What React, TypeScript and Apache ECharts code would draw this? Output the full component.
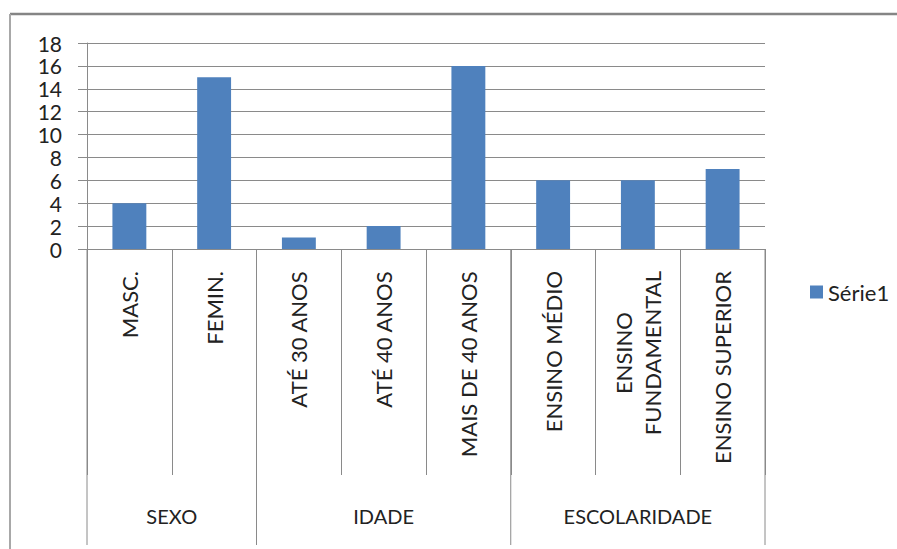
import React, { useEffect, useRef } from "react";
import * as echarts from "echarts";

const categories = [
  "MASC.",
  "FEMIN.",
  "ATÉ 30 ANOS",
  "ATÉ 40 ANOS",
  "MAIS DE 40 ANOS",
  "ENSINO MÉDIO",
  "ENSINO\nFUNDAMENTAL",
  "ENSINO SUPERIOR",
];
const values = [4, 15, 1, 2, 16, 6, 6, 7];
const groupLabels = ["SEXO", "IDADE", "ESCOLARIDADE"];
const groupSizes = [2, 3, 3];
const seriesName = "Série1";
const yMin = 0;
const yMax = 18;
const yInterval = 2;

const FONT = "Lato, 'Open Sans', sans-serif";
const TEXT = "#222222";
const LINE = "#8a8a8a";

export default function App() {
  const ref = useRef<HTMLDivElement>(null);

  useEffect(() => {
    document.body.style.margin = "0";
    const chart = echarts.init(ref.current!, null, { renderer: "svg" });
    const axisBottom = 249;
    chart.setOption({
      animation: false,
      backgroundColor: "#ffffff",
      grid: { left: 87, right: 132, top: 43, bottom: 549 - axisBottom, containLabel: false },
      legend: {
        data: [seriesName],
        left: 805,
        top: 276,
        icon: "rect",
        itemWidth: 13,
        itemHeight: 13,
        textStyle: { fontFamily: FONT, fontSize: 22, color: TEXT },
      },
      xAxis: {
        type: "category",
        data: categories,
        axisLine: { show: true, lineStyle: { color: LINE, width: 1 } },
        axisTick: { show: true, length: 226, alignWithLabel: false, lineStyle: { color: LINE, width: 1 } },
        axisLabel: {
          interval: 0,
          rotate: 90,
          margin: 22,
          color: TEXT,
          formatter: (v: string) => v.split("\n").map((l) => `{c|${l}}`).join("\n"),
          rich: {
            c: { align: "center", fontFamily: FONT, fontSize: 22, lineHeight: 29, color: TEXT },
          },
        },
      },
      yAxis: {
        type: "value",
        min: yMin,
        max: yMax,
        interval: yInterval,
        axisLine: { show: true, lineStyle: { color: LINE, width: 1 } },
        axisTick: { show: true, length: 9, lineStyle: { color: LINE, width: 1 } },
        splitLine: { show: true, lineStyle: { color: LINE, width: 1 } },
        axisLabel: { margin: 25, fontFamily: FONT, fontSize: 21, color: TEXT },
      },
      series: [
        {
          name: seriesName,
          type: "bar",
          data: values,
          barWidth: "40%",
          itemStyle: { color: "#4F81BD" },
        },
      ],
    });

    const c0 = chart.convertToPixel({ xAxisIndex: 0 }, 0) as number;
    const c1 = chart.convertToPixel({ xAxisIndex: 0 }, 1) as number;
    const band = c1 - c0;
    const boundary = (i: number) => c0 - band / 2 + band * i;
    const graphics: any[] = [];
    let start = 0;
    const bounds = [0];
    groupSizes.forEach((n, gi) => {
      const end = start + n;
      bounds.push(end);
      graphics.push({
        type: "text",
        x: (boundary(start) + boundary(end)) / 2,
        y: 516,
        style: {
          text: groupLabels[gi],
          fontFamily: FONT,
          fontSize: 20,
          fill: TEXT,
          textAlign: "center",
          textVerticalAlign: "middle",
        },
      });
      start = end;
    });
    bounds.forEach((b) => {
      graphics.push({
        type: "line",
        shape: { x1: boundary(b), y1: axisBottom, x2: boundary(b), y2: 545 },
        style: { stroke: LINE, lineWidth: 1 },
      });
    });
    graphics.push({
      type: "line",
      shape: { x1: 10, y1: 14, x2: 897, y2: 14 },
      style: { stroke: "#858585", lineWidth: 2.5 },
    });
    graphics.push({
      type: "line",
      shape: { x1: 10, y1: 14, x2: 10, y2: 549 },
      style: { stroke: "#a8a8a8", lineWidth: 2 },
    });
    chart.setOption({ graphic: graphics });

    return () => chart.dispose();
  }, []);

  return (
    <div
      ref={ref}
      style={{ position: "fixed", left: 0, top: 0, width: 897, height: 549, background: "#fff" }}
    />
  );
}
